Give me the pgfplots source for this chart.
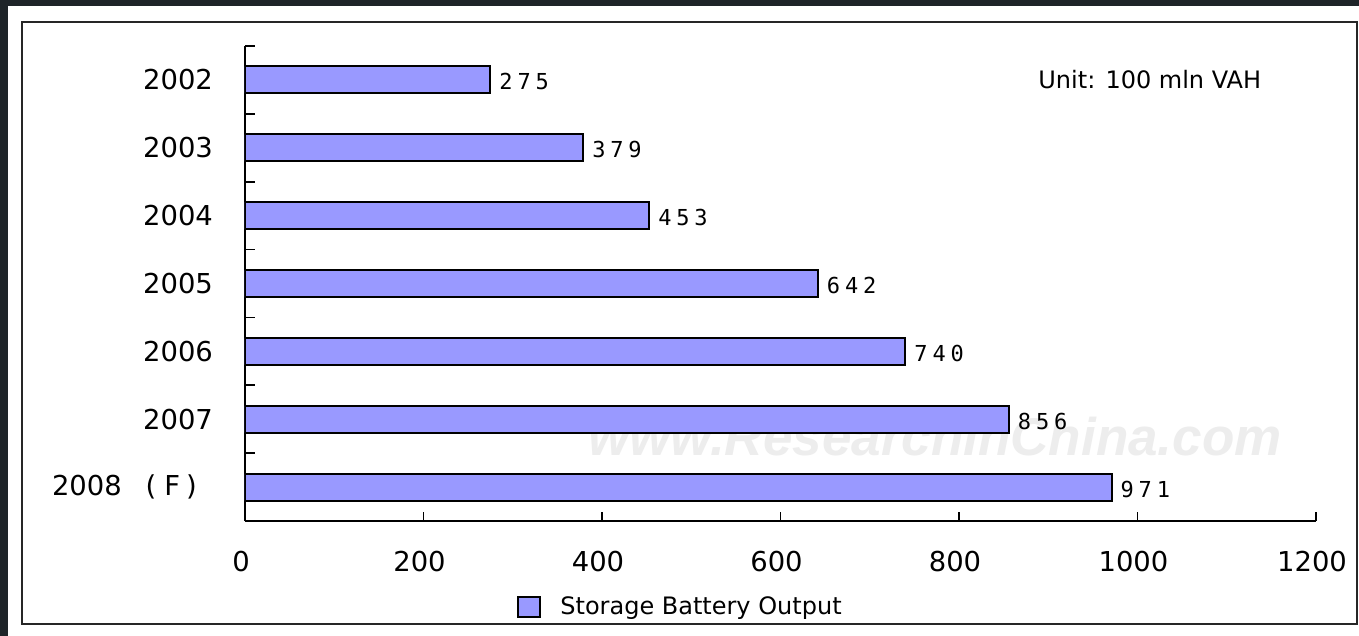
\documentclass[border=0pt]{standalone}
\usepackage{pgfplots}
\pgfplotsset{compat=1.18}
\usepackage{fontspec}
\setmainfont{DejaVu Sans}
\newfontfamily\lblfont[LetterSpace=22]{DejaVu Sans Mono}
\newfontfamily\wmfont{Liberation Sans}
\definecolor{barfill}{RGB}{153,153,255}
\definecolor{darkbg}{RGB}{30,36,40}
\begin{document}
\begin{tikzpicture}
\fill[darkbg] (0pt,0pt) rectangle (679.5pt,318pt);
\fill[white] (4pt,0pt) rectangle (679.5pt,315pt);
\draw[line width=0.75pt,black!85] (11pt,6pt) rectangle (678.5pt,307pt);
\node[font=\wmfont\fontsize{26.5}{30}\selectfont\bfseries\itshape, text=black!7] at (467.5pt,99.5pt) {www.ResearchInChina.com};
\node[anchor=west, font=\fontsize{12}{14}\selectfont, inner sep=0pt] at (519pt,278pt) {Unit: 100 mln VAH};
\begin{axis}[
  at={(122.5pt,57.5pt)}, anchor=south west,
  scale only axis, width=535.5pt, height=237.5pt,
  xmin=0, xmax=1200, ymin=-0.5, ymax=6.5, y dir=reverse,
  axis x line*=bottom, axis y line*=left,
  axis line style={line width=1pt,-},
  xtick={0,200,...,1200}, tick align=inside, major tick length=4.5pt,
  tick style={line width=0.8pt,black},
  ytick={0,...,6},
  yticklabels={2002,2003,2004,2005,2006,2007,{2008\kern12pt(\kern4pt F\kern3pt)\kern8pt\null}},
  every major y tick/.append style={draw=none},
  minor ytick={-0.5,0.5,...,6.5}, minor tick length=5pt,
  every minor y tick/.append style={xshift=5pt},
  /pgf/number format/assume math mode=true,
  /pgf/number format/1000 sep={},
  tick label style={font=\fontsize{13.7}{16}\selectfont},
  xticklabel style={yshift=-11.5pt, xshift=-2pt},
  yticklabel style={xshift=-8pt},
  xbar, bar width=13.5pt,
  nodes near coords,
  point meta=explicit symbolic,
  nodes near coords style={anchor=west, font=\lblfont\fontsize{11}{13}\selectfont, inner sep=4pt, yshift=-1pt},
  legend style={draw=none, fill=none, at={(0.4076,-0.181)}, anchor=center,
    font=\fontsize{12}{14}\selectfont},
  legend image code/.code={\draw[#1] (0pt,-5pt) rectangle (11pt,5pt); \path[draw=none,fill=none] (0pt,0pt) -- (19pt,0pt);},
]
\addplot[fill=barfill, draw=black, line width=1pt] coordinates {
  (275,0) [275]
  (379,1) [379]
  (453,2) [453]
  (642,3) [642]
  (740,4) [740]
  (856,5) [856]
  (971,6) [971]
};
\addlegendentry{Storage Battery Output}
\end{axis}
\end{tikzpicture}
\end{document}
